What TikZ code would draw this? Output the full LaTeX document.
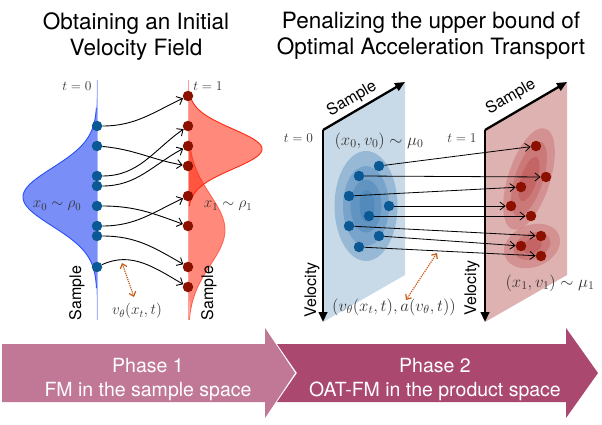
\documentclass[tikz,border=0pt]{standalone}
\usepackage{fix-cm}
\usepackage{fontspec}
\newfontfamily\hel{TeX Gyre Heros}
\usetikzlibrary{arrows.meta}
\definecolor{bfill}{RGB}{122,142,248}
\definecolor{bedge}{RGB}{40,80,245}
\definecolor{bline}{RGB}{170,185,250}
\definecolor{rfill}{RGB}{255,45,20}
\definecolor{redge}{RGB}{255,40,15}
\definecolor{rline}{RGB}{250,160,150}
\definecolor{dotblue}{RGB}{10,88,148}
\definecolor{dotred}{RGB}{140,16,0}
\definecolor{vcol}{RGB}{200,90,20}
\definecolor{bplane}{RGB}{200,218,232}
\definecolor{rplane}{RGB}{223,178,178}
\definecolor{bcont}{RGB}{55,120,178}
\definecolor{rcont}{RGB}{176,48,48}
\definecolor{phaseA}{RGB}{192,120,150}
\definecolor{phaseB}{RGB}{170,72,112}
\begin{document}
\begin{tikzpicture}[x=1pt,y=-1pt,
  bdot/.style={circle,fill=dotblue,inner sep=0pt,minimum size=10.5pt},
  rdot/.style={circle,fill=dotred,inner sep=0pt,minimum size=10.5pt},
  flow/.style={-{Straight Barb[length=5pt,width=9pt]},line width=0.9pt},
  flowst/.style={-{Straight Barb[length=5pt,width=8pt]},line width=0.8pt},
  velarrow/.style={{Straight Barb[length=4pt,width=7pt]}-{Straight Barb[length=4pt,width=7pt]},densely dotted,line width=1.2pt,vcol},
  axisline/.style={line width=2.3pt,-{Triangle[length=10pt,width=8.5pt]}},
  tlab/.style={inner sep=0pt,font=\fontsize{13.5}{15}\selectfont,text=black!80},
  mathl/.style={inner sep=0pt,font=\fontsize{15.3}{17}\selectfont,text=black!80},
  mathr/.style={inner sep=0pt,font=\fontsize{16.8}{18}\selectfont,text=black!80},
  sanslab/.style={inner sep=0pt,font=\hel\fontsize{16}{18}\selectfont},
  title/.style={inner sep=0pt,anchor=north,align=center,font=\hel\fontsize{22.5}{26}\selectfont},
  phasetext/.style={inner sep=0pt,anchor=north,align=center,text=white,font=\hel\fontsize{19.5}{24}\selectfont}
]
\useasboundingbox (0,0) rectangle (602,425);

% ---------------- titles
\node[title] (titleL) at (136,12) {Obtaining an Initial\\Velocity Field};
\node[title] (titleR) at (431,12) {Penalizing the upper bound of\\Optimal Acceleration Transport};

% ---------------- left panel: densities
\fill[bfill] plot[domain=80:320,samples=161] ({97-74*exp(-0.5*((\x-197)/29)*((\x-197)/29))},\x) -- cycle;
\draw[bline,line width=1pt] (97,80) -- (97,320);
\draw[bedge,line width=0.9pt] plot[domain=108:288,samples=121] ({97-74*exp(-0.5*((\x-197)/29)*((\x-197)/29))},\x);

\fill[rfill,opacity=0.56] plot[domain=80:320,samples=161] ({188+74*exp(-0.5*((\x-149)/20)*((\x-149)/20))},\x) -- cycle;
\fill[rfill,opacity=0.56] plot[domain=80:320,samples=161] ({188+37*exp(-0.5*((\x-230)/35)*((\x-230)/35))},\x) -- cycle;
\draw[rline,line width=1pt] (188,80) -- (188,320);
\draw[redge,line width=0.9pt] plot[domain=92:206,samples=121] ({188+74*exp(-0.5*((\x-149)/20)*((\x-149)/20))},\x);
\draw[redge,opacity=0.6,line width=0.8pt] plot[domain=150:320,samples=121] ({188+37*exp(-0.5*((\x-230)/35)*((\x-230)/35))},\x);

% dots
\node[bdot] (b1) at (97,126) {};
\node[bdot] (b2) at (97,146) {};
\node[bdot] (b3) at (97,176) {};
\node[bdot] (b4) at (97,186) {};
\node[bdot] (b5) at (97,206) {};
\node[bdot] (b6) at (97,226) {};
\node[bdot] (b7) at (97,236) {};
\node[bdot] (b8) at (97,267) {};
\node[rdot] (r1) at (188,96) {};
\node[rdot] (r2) at (188,126) {};
\node[rdot] (r3) at (188,146) {};
\node[rdot] (r4) at (188,166) {};
\node[rdot] (r5) at (188,196) {};
\node[rdot] (r6) at (188,226) {};
\node[rdot] (r7) at (188,267) {};
\node[rdot] (r8) at (188,287) {};

\draw[flow] (b1) to[out=0,in=205] (r1);
\draw[flow] (b2) to[out=-5,in=170] (r4);
\draw[flow] (b3) to[out=0,in=215] (r2);
\draw[flow] (b4) to[out=0,in=208] (r3);
\draw[flow] (b5) to[out=0,in=160] (r6);
\draw[flow] (b6) to[out=0,in=205] (r5);
\draw[flow] (b7) to[out=0,in=150] (r7);
\draw[flow] (b8) to[out=25,in=150] (r8);

% labels left
\node[tlab] (t0l) at (77,86) {$t=0$};
\node[tlab] (t1l) at (208,86) {$t=1$};
\node[mathl] (x0l) at (57,206) {$x_0\sim\rho_0$};
\node[mathl] (x1l) at (228,206) {$x_1\sim\rho_1$};
\node[sanslab,rotate=90] (sampL1) at (77,293) {Sample};
\node[sanslab,rotate=90] (sampL2) at (209,293) {Sample};
\node[mathl] (vtl) at (137,311) {$v_\theta(x_t,t)$};
\coordinate (va1) at (122,263);
\coordinate (va2) at (134,297);
\draw[velarrow] (va1) -- (va2);

% ---------------- right panel: planes
\coordinate (B0) at (323,130);
\coordinate (BS) at (405,82);
\coordinate (BR) at (405,275);
\coordinate (BV) at (323,322);
\coordinate (R0) at (485,130);
\coordinate (RS) at (567,82);
\coordinate (RR) at (567,275);
\coordinate (RV) at (485,322);

\fill[bplane] (B0) -- (BS) -- (BR) -- (BV) -- cycle;
\begin{scope}[shift={(366,206)}]
  \fill[bcont,opacity=0.33] (0,0) ellipse [x radius=31.5pt,y radius=55pt];
  \fill[bcont,opacity=0.33] (0,0) ellipse [x radius=23pt,y radius=40pt];
  \fill[bcont,opacity=0.33] (0,0) ellipse [x radius=15.5pt,y radius=26.5pt];
  \fill[bcont,opacity=0.33] (1,0) ellipse [x radius=7.5pt,y radius=16pt];
\end{scope}
\draw[axisline] (B0) -- (BS);
\draw[axisline] (B0) -- (BV);

\fill[rplane] (R0) -- (RS) -- (RR) -- (RV) -- cycle;
\begin{scope}[shift={(529,179)},rotate=-18]
  \fill[rcont,opacity=0.25] (0,0) ellipse [x radius=21pt,y radius=53pt];
  \fill[rcont,opacity=0.25] (0,0) ellipse [x radius=14pt,y radius=39pt];
  \fill[rcont,opacity=0.25] (0,0) ellipse [x radius=8pt,y radius=23pt];
\end{scope}
\begin{scope}[shift={(532,246)},rotate=22]
  \fill[rcont,opacity=0.25] (0,0) ellipse [x radius=29pt,y radius=21pt];
  \fill[rcont,opacity=0.25] (0,0) ellipse [x radius=19pt,y radius=13pt];
  \fill[rcont,opacity=0.25] (0,0) ellipse [x radius=10pt,y radius=7pt];
\end{scope}
\draw[axisline] (R0) -- (RS);
\draw[axisline] (R0) -- (RV);

% dots right
\node[bdot] (p1) at (379,166) {};
\node[bdot] (p2) at (359,176) {};
\node[bdot] (p3) at (349,196) {};
\node[bdot] (p4) at (389,206) {};
\node[bdot] (p5) at (369,216) {};
\node[bdot] (p6) at (349,226) {};
\node[bdot] (p7) at (379,236) {};
\node[bdot] (p8) at (359,247) {};
\node[rdot] (q1) at (536,146) {};
\node[rdot] (q2) at (546,177) {};
\node[rdot] (q3) at (521,187) {};
\node[rdot] (q4) at (511,206) {};
\node[rdot] (q5) at (531,216) {};
\node[rdot] (q6) at (541,236) {};
\node[rdot] (q7) at (521,246) {};
\node[rdot] (q8) at (541,256) {};

\foreach \i in {1,...,8} {\draw[flowst] (p\i) -- (q\i);}

% labels right
\node[tlab] (t0r) at (298.5,138) {$t=0$};
\node[tlab] (t1r) at (462,138) {$t=1$};
\node[mathr] (mu0) at (379,141) {$(x_0,v_0)\sim\mu_0$};
\node[mathr] (mu1) at (550,283) {$(x_1,v_1)\sim\mu_1$};
\node[mathr] (vaR) at (394,307) {$(v_\theta(x_t,t),a(v_\theta,t))$};
\node[sanslab,rotate=30.3] (sampR1) at (352,99) {Sample};
\node[sanslab,rotate=30.3] (sampR2) at (511,97) {Sample};
\node[sanslab,rotate=90] (velR1) at (312,290) {Velocity};
\node[sanslab,rotate=90] (velR2) at (472,288) {Velocity};
\coordinate (vb1) at (437,253);
\coordinate (vb2) at (406,300);
\draw[velarrow] (vb1) -- (vb2);

% ---------------- phase arrows
\fill[phaseA] (2,344) -- (265,344) -- (265,328) -- (295,373) -- (265,418) -- (265,402) -- (2,402) -- cycle;
\fill[phaseB] (277,344) -- (566,344) -- (566,328) -- (598,373) -- (566,418) -- (566,402) -- (277,402) -- (297,373) -- cycle;
\node[phasetext] (ph1) at (148,358) {Phase 1\\FM in the sample space};
\node[phasetext] (ph2) at (435,358) {Phase 2\\OAT-FM in the product space};
\end{tikzpicture}
\end{document}
